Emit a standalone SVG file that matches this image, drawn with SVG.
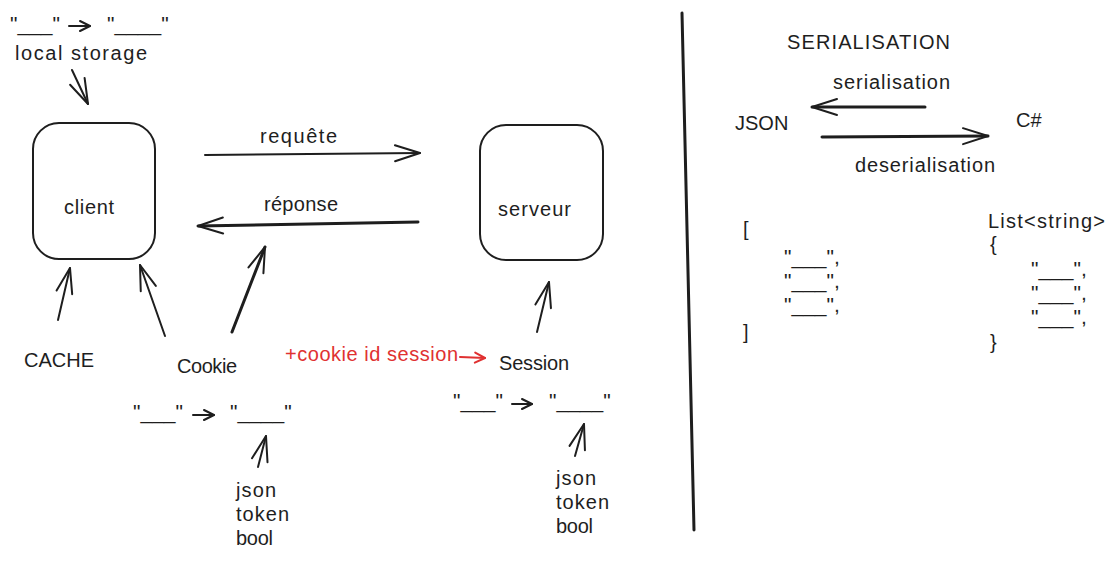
<svg xmlns="http://www.w3.org/2000/svg" width="1113" height="561" viewBox="0 0 1113 561">
<style>
text{font-family:"Liberation Sans","Noto Sans",sans-serif;font-size:20px;fill:#1e1e1e}
.red{fill:#e03131}
.q{font-size:21px}
.box{fill:none;stroke:#1e1e1e;stroke-width:2}
.c line,.c path{fill:none;stroke:#1e1e1e;stroke-width:2;stroke-linecap:round}
.c .r{stroke:#e03131}
.big{marker-end:url(#ab)}
.sm{marker-end:url(#as)}
</style>
<defs>
<marker id="ab" markerUnits="userSpaceOnUse" markerWidth="30" markerHeight="20" viewBox="-1 -10 30 20" refX="25" refY="0" orient="auto" overflow="visible">
<path d="M0,-8 L25,0 L0,8" fill="none" stroke="#1e1e1e" stroke-width="2" stroke-linecap="round" stroke-linejoin="round"/>
</marker>
<marker id="as" markerUnits="userSpaceOnUse" markerWidth="14" markerHeight="12" viewBox="-1 -6 14 12" refX="10" refY="0" orient="auto" overflow="visible">
<path d="M0,-5 L10,0 L0,5" fill="none" stroke="#1e1e1e" stroke-width="2" stroke-linecap="round" stroke-linejoin="round"/>
</marker>
<marker id="ar" markerUnits="userSpaceOnUse" markerWidth="14" markerHeight="12" viewBox="-1 -6 14 12" refX="10" refY="0" orient="auto" overflow="visible">
<path d="M0,-5 L10,0 L0,5" fill="none" stroke="#e03131" stroke-width="2" stroke-linecap="round" stroke-linejoin="round"/>
</marker>
</defs>

<g id="client">
<rect class="box" x="33" y="123" width="122" height="136" rx="26"/>
<text x="64" y="214" textLength="50" lengthAdjust="spacing">client</text>
</g>
<g id="serveur">
<rect class="box" x="480" y="125" width="123" height="135" rx="26"/>
<text x="498" y="216" textLength="73" lengthAdjust="spacing">serveur</text>
</g>

<g id="localstorage">
<text class="q" x="10" y="31">"___"</text>
<text class="q" x="107" y="31">"____"</text>
<text x="15" y="60" textLength="132" lengthAdjust="spacing">local storage</text>
</g>
<g id="cache"><text x="24" y="367" font-size="19">CACHE</text></g>
<g id="cookie">
<text x="177" y="373" textLength="60" lengthAdjust="spacing">Cookie</text>
<text class="q" x="133" y="419">"___"</text>
<text class="q" x="230" y="419">"____"</text>
<text x="236" y="497" textLength="40" lengthAdjust="spacing">json</text>
<text x="236" y="521" textLength="53" lengthAdjust="spacing">token</text>
<text x="236" y="545" textLength="37" lengthAdjust="spacing">bool</text>
</g>
<g id="cookie-id-session"><text class="red" x="285" y="361" textLength="173" lengthAdjust="spacing">+cookie id session</text></g>
<g id="session">
<text x="499" y="370" textLength="70" lengthAdjust="spacing">Session</text>
<text class="q" x="453" y="408">"___"</text>
<text class="q" x="549" y="408">"____"</text>
<text x="556" y="485" textLength="40" lengthAdjust="spacing">json</text>
<text x="556" y="509" textLength="53" lengthAdjust="spacing">token</text>
<text x="556" y="533" textLength="37" lengthAdjust="spacing">bool</text>
</g>
<g id="labels">
<text x="260" y="143" textLength="77" lengthAdjust="spacing">requête</text>
<text x="264" y="211" textLength="74" lengthAdjust="spacing">réponse</text>
</g>

<g id="serialisation">
<text x="787" y="49" textLength="163" lengthAdjust="spacing">SERIALISATION</text>
<text x="833" y="89" textLength="117" lengthAdjust="spacing">serialisation</text>
<text x="735" y="130">JSON</text>
<text x="1016" y="127">C#</text>
<text x="855" y="172" textLength="140" lengthAdjust="spacing">deserialisation</text>
</g>
<g id="json-array">
<text x="743" y="236">[</text>
<text class="q" x="784" y="264">"___",</text>
<text class="q" x="784" y="288">"___",</text>
<text class="q" x="784" y="312">"___",</text>
<text x="743" y="339">]</text>
</g>
<g id="csharp-list">
<text x="988" y="228" textLength="117" lengthAdjust="spacing">List&lt;string&gt;</text>
<text x="990" y="251">{</text>
<text class="q" x="1031" y="276">"___",</text>
<text class="q" x="1031" y="300">"___",</text>
<text class="q" x="1031" y="324">"___",</text>
<text x="990" y="349">}</text>
</g>

<g id="connectors" class="c">
<line class="sm" x1="69" y1="26" x2="90" y2="26"/>
<line class="big" x1="72" y1="70" x2="88" y2="104"/>
<line class="big" x1="205" y1="155" x2="420" y2="153"/>
<line class="big" x1="418" y1="222" x2="198" y2="226" style="stroke-width:3"/>
<line class="big" x1="58" y1="320" x2="70" y2="268"/>
<line class="big" x1="165" y1="336" x2="140" y2="265"/>
<line class="big" x1="232" y1="332" x2="265" y2="247" style="stroke-width:3"/>
<line class="big" x1="537" y1="332" x2="549" y2="282"/>
<line class="r" x1="460" y1="357" x2="485" y2="358" marker-end="url(#ar)"/>
<line class="sm" x1="193" y1="415" x2="214" y2="415"/>
<line class="big" x1="258" y1="467" x2="266" y2="436"/>
<line class="sm" x1="512" y1="404" x2="532" y2="404"/>
<line class="big" x1="575" y1="456" x2="584" y2="424"/>
<line class="big" x1="925" y1="107" x2="812" y2="107" style="stroke-width:3"/>
<line class="big" x1="822" y1="137" x2="988" y2="136" style="stroke-width:3"/>
<line x1="682" y1="13" x2="694" y2="530" style="stroke-width:3"/>
</g>
</svg>
